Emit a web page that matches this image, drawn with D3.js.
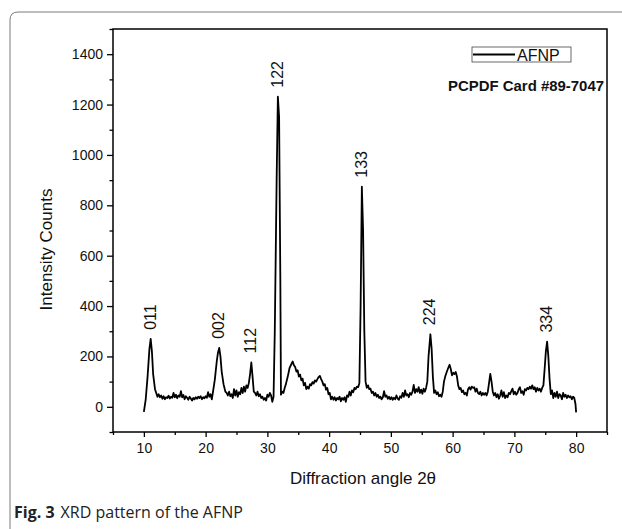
<!DOCTYPE html>
<html>
<head>
<meta charset="utf-8">
<script src="https://cdn.jsdelivr.net/npm/d3@7"></script>
<style>
  body { margin: 0; background: #fff; }
  text { font-family: "Liberation Sans", Arial, sans-serif; }
</style>
</head>
<body>
<div id="chart"></div>
<script>
// XRD pattern: [2theta, counts]
const pattern = [
  [10.0,-20],[10.3,30],[10.6,120],[10.9,230],[11.1,270],[11.3,220],[11.5,130],[11.8,70],[12.0,55],[12.2,40],[12.4,50],[12.6,38],[12.8,45],
  [13.0,32],[13.2,42],[13.4,30],[13.6,38],[13.8,35],[14.0,44],[14.2,33],[14.4,40],[14.6,36],[14.8,55],[15.0,38],[15.2,48],[15.4,34],[15.6,45],[15.8,40],
  [16.0,62],[16.2,38],[16.4,47],[16.6,30],[16.8,42],[17.0,36],[17.2,28],[17.4,40],[17.6,33],[17.8,25],[18.0,35],[18.2,30],[18.4,38],[18.6,32],[18.8,40],
  [19.0,35],[19.2,42],[19.4,30],[19.6,38],[19.8,34],[20.0,42],[20.2,36],[20.4,58],[20.6,40],[20.8,50],[21.0,30],
  [21.2,60],[21.5,110],[21.8,180],[22.0,215],[22.2,234],[22.4,200],[22.6,140],[22.9,90],[23.2,60],[23.4,55],[23.6,45],[23.8,60],
  [24.0,42],[24.2,50],[24.4,35],[24.6,70],[24.8,45],[25.0,65],[25.2,40],[25.4,58],[25.6,50],[25.8,75],[26.0,55],[26.2,80],[26.4,60],[26.6,85],[26.8,75],[27.0,95],
  [27.2,130],[27.4,176],[27.6,120],[27.8,60],[28.0,55],[28.2,45],[28.4,60],[28.6,42],[28.8,50],[29.0,35],[29.2,40],[29.4,28],[29.6,35],[29.8,25],
  [30.0,48],[30.2,40],[30.4,55],[30.6,45],[30.8,20],[31.0,40],
  [31.2,300],[31.5,900],[31.7,1231],[31.9,1150],[32.1,500],[32.2,48],[32.4,60],[32.6,55],[32.8,75],[33.0,90],[33.3,120],[33.6,155],[33.9,170],
  [34.1,180],[34.3,165],[34.5,158],[34.7,140],[34.9,145],[35.1,120],[35.3,128],[35.5,105],[35.7,112],[35.9,85],[36.1,95],[36.3,70],[36.5,80],
  [36.7,72],[36.9,90],[37.1,85],[37.3,98],[37.5,92],[37.7,105],[37.9,100],[38.1,110],[38.3,118],[38.5,123],[38.7,110],[38.9,100],[39.1,85],
  [39.3,90],[39.5,68],[39.7,75],[39.9,50],[40.1,55],[40.3,30],[40.5,40],[40.7,28],[40.9,38],[41.1,25],[41.3,35],[41.5,30],[41.7,40],[41.9,22],
  [42.1,35],[42.3,28],[42.5,38],[42.7,20],[42.9,45],[43.1,40],[43.3,60],[43.5,45],[43.7,65],[43.9,58],[44.1,75],[44.3,70],[44.5,80],[44.7,78],[44.9,95],
  [45.1,400],[45.3,874],[45.5,700],[45.7,300],[45.9,100],[46.1,75],[46.3,85],[46.5,70],[46.7,72],[46.9,55],[47.1,60],[47.3,45],[47.5,55],[47.7,40],
  [47.9,48],[48.1,35],[48.3,40],[48.5,30],[48.7,38],[48.9,62],[49.1,40],[49.3,45],[49.5,32],[49.7,40],[49.9,30],[50.1,38],[50.3,28],[50.5,36],
  [50.7,30],[50.9,45],[51.1,33],[51.3,28],[51.5,42],[51.7,36],[51.9,55],[52.1,40],[52.3,65],[52.5,45],[52.7,50],[52.9,38],[53.1,55],[53.3,48],
  [53.5,60],[53.7,87],[53.9,55],[54.1,70],[54.3,60],[54.5,78],[54.7,55],[54.9,68],[55.1,52],[55.3,72],[55.5,60],[55.7,75],[55.9,100],
  [56.1,200],[56.4,288],[56.6,230],[56.8,120],[57.0,55],[57.2,65],[57.4,50],[57.6,58],[57.8,42],[58.0,48],[58.2,40],[58.4,60],[58.6,100],
  [58.8,120],[59.0,135],[59.3,155],[59.5,167],[59.7,150],[59.9,125],[60.1,135],[60.3,130],[60.5,138],[60.7,120],[60.9,85],[61.1,70],[61.3,75],
  [61.5,58],[61.7,65],[61.9,50],[62.1,55],[62.3,45],[62.5,70],[62.7,78],[62.9,68],[63.1,80],[63.3,75],[63.5,78],[63.7,60],[63.9,72],[64.1,55],
  [64.3,50],[64.5,60],[64.7,45],[64.9,55],[65.1,48],[65.3,55],[65.5,45],[65.7,60],[65.9,95],[66.1,131],[66.3,100],[66.5,60],[66.7,45],[66.9,55],
  [67.1,38],[67.3,50],[67.5,32],[67.7,45],[67.9,65],[68.1,40],[68.3,58],[68.5,35],[68.7,45],[68.9,38],[69.1,55],[69.3,50],[69.5,62],[69.7,72],
  [69.9,50],[70.1,60],[70.3,48],[70.5,55],[70.7,70],[70.9,78],[71.1,55],[71.3,62],[71.5,48],[71.7,70],[71.9,65],[72.1,75],[72.3,70],[72.5,80],
  [72.7,72],[72.9,85],[73.1,70],[73.3,78],[73.5,60],[73.7,75],[73.9,65],[74.1,72],[74.3,60],[74.5,75],[74.7,85],[74.9,150],[75.1,220],[75.3,259],
  [75.5,200],[75.7,110],[75.9,50],[76.1,65],[76.3,35],[76.5,55],[76.7,40],[76.9,60],[77.1,35],[77.3,50],[77.5,45],[77.7,30],[77.9,55],[78.1,40],
  [78.3,48],[78.5,35],[78.7,45],[78.9,38],[79.1,42],[79.3,30],[79.5,40],[79.7,35],[79.9,10],[80.0,-22]
];

// Miller index labels: [hkl, 2theta, peak counts]
const peakLabels = [
  ["011", 11.1, 270], ["002", 22.2, 234], ["112", 27.4, 176], ["122", 31.8, 1231],
  ["133", 45.3, 874], ["224", 56.4, 288], ["334", 75.3, 259]
];

const xTicks = [10, 20, 30, 40, 50, 60, 70, 80];
const xMinorTicks = [5, 15, 25, 35, 45, 55, 65, 75, 85];
const yTicks = [0, 200, 400, 600, 800, 1000, 1200, 1400];
const yMinorTicks = [-100, 100, 300, 500, 700, 900, 1100, 1300, 1500];

const W = 622, H = 529;
const margin = { top: 29, right: 15, bottom: 97, left: 113 };
const width = W - margin.left - margin.right;
const height = H - margin.top - margin.bottom;

const svg = d3.select("#chart").append("svg")
    .attr("width", W)
    .attr("height", H);

svg.append("rect").attr("width", W).attr("height", H).attr("fill", "#fff");

// outer figure frame (rounded top-left corner)
svg.append("path")
    .attr("d", `M10,${H} L10,20 Q10,12 18,12 L${W},12`)
    .attr("fill", "none")
    .attr("stroke", "#7a7a7a")
    .attr("stroke-width", 1);

const x = d3.scaleLinear().domain([5, 85]).range([0, width]);
const y = d3.scaleLinear().domain([-100, 1500]).range([height, 0]);

const g = svg.append("g")
    .attr("transform", `translate(${margin.left},${margin.top})`);

// box
g.append("rect")
    .attr("width", width)
    .attr("height", height)
    .attr("fill", "none")
    .attr("stroke", "#000")
    .attr("stroke-width", 1.5);

// axes
g.append("g")
    .attr("transform", `translate(0,${height})`)
    .call(d3.axisBottom(x).tickValues(xTicks).tickSize(5).tickPadding(6).tickFormat(d3.format("d")));
g.append("g")
    .attr("transform", `translate(0,${height})`)
    .call(d3.axisBottom(x).tickValues(xMinorTicks).tickSize(3).tickFormat(""));

g.append("g")
    .call(d3.axisLeft(y).tickValues(yTicks).tickSize(6).tickPadding(4).tickFormat(d3.format("d")));
g.append("g")
    .call(d3.axisLeft(y).tickValues(yMinorTicks).tickSize(3.5).tickFormat(""));

g.selectAll(".domain").remove();
g.selectAll(".tick line").attr("stroke", "#000").attr("stroke-width", 1.3);
g.selectAll(".tick text")
    .attr("fill", "#111")
    .style("font-size", "14px")
    .style("font-family", "'Liberation Sans', Arial, sans-serif");

// data line
const line = d3.line()
    .x(d => x(d[0]))
    .y(d => y(d[1]));

g.append("path")
    .datum(pattern)
    .attr("d", line)
    .attr("fill", "none")
    .attr("stroke", "#000")
    .attr("stroke-width", 1.8)
    .attr("stroke-linejoin", "round");

// peak labels
g.selectAll(".peak-label")
    .data(peakLabels)
    .enter()
    .append("text")
    .attr("class", "peak-label")
    .attr("transform", d => `translate(${x(d[1]) + 5},${y(d[2]) - 9}) rotate(-90)`)
    .attr("fill", "#111")
    .style("font-size", "16px")
    .text(d => d[0]);

// axis titles
svg.append("text")
    .attr("transform", `translate(52,${margin.top + height / 2 + 19}) rotate(-90)`)
    .attr("text-anchor", "middle")
    .attr("fill", "#111")
    .style("font-size", "17px")
    .text("Intensity Counts");

svg.append("text")
    .attr("x", margin.left + width / 2 + 3)
    .attr("y", 484)
    .attr("text-anchor", "middle")
    .attr("fill", "#111")
    .style("font-size", "17px")
    .text("Diffraction angle 2θ");

// legend
const legend = svg.append("g");
legend.append("rect")
    .attr("x", 472).attr("y", 47)
    .attr("width", 99).attr("height", 15)
    .attr("fill", "none")
    .attr("stroke", "#444")
    .attr("stroke-width", 0.8);
legend.append("line")
    .attr("x1", 473).attr("x2", 515)
    .attr("y1", 54.5).attr("y2", 54.5)
    .attr("stroke", "#000")
    .attr("stroke-width", 1.8);
legend.append("text")
    .attr("x", 517).attr("y", 60.5)
    .attr("fill", "#111")
    .style("font-size", "16px")
    .text("AFNP");

svg.append("text")
    .attr("x", 448).attr("y", 91)
    .attr("fill", "#111")
    .attr("textLength", 156)
    .attr("lengthAdjust", "spacingAndGlyphs")
    .style("font-size", "14px")
    .style("font-weight", "bold")
    .text("PCPDF Card #89-7047");

// caption
const caption = svg.append("text")
    .attr("x", 14).attr("y", 518)
    .style("font-family", "'Open Sans', 'Noto Sans', sans-serif")
    .style("font-size", "16px")
    .attr("fill", "#222");
caption.append("tspan").style("font-weight", "bold").text("Fig. 3");
caption.append("tspan").attr("dx", 6).style("font-weight", "normal").text("XRD pattern of the AFNP");
</script>
</body>
</html>
